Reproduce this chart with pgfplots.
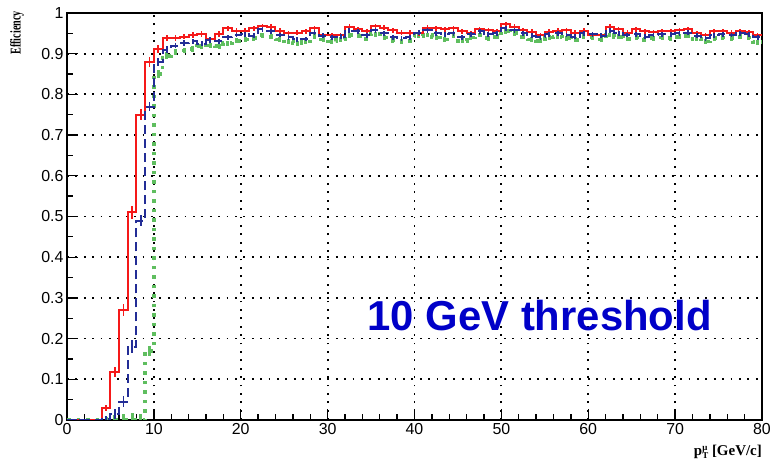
\documentclass[border=0pt]{standalone}
\usepackage{fontspec}
\setmainfont{Liberation Sans}
\newfontfamily\tnr{Liberation Serif}
\usepackage{pgfplots}
\usepackage{pgfplotstable}
\pgfplotsset{compat=1.18}
\definecolor{hred}{RGB}{245,25,25}
\definecolor{hblue}{RGB}{35,45,150}
\definecolor{hgreen}{RGB}{95,190,95}
\definecolor{tblue}{RGB}{0,0,200}

\pgfplotstableread{
x r b g e
0 0 0 0 0.002
1 0 0 0 0.002
2 0 0 0 0.002
3 0 0 0 0.002
4 0.030 0.003 0 0.008
5 0.117 0.015 0 0.012
6 0.270 0.045 0 0.014
7 0.510 0.180 0 0.016
8 0.750 0.490 0 0.014
9 0.880 0.770 0.170 0.012
10 0.912 0.880 0.850 0.010
11 0.938 0.910 0.895 0.008
12 0.938 0.920 0.905 0.007
13 0.942 0.926 0.908 0.007
14 0.946 0.930 0.912 0.007
15 0.948 0.925 0.918 0.007
16 0.935 0.934 0.920 0.007
17 0.948 0.930 0.918 0.007
18 0.962 0.940 0.926 0.006
19 0.956 0.946 0.932 0.006
20 0.956 0.948 0.935 0.006
21 0.962 0.944 0.938 0.006
22 0.968 0.960 0.945 0.006
23 0.966 0.955 0.942 0.006
24 0.956 0.946 0.935 0.006
25 0.950 0.940 0.930 0.006
26 0.952 0.935 0.926 0.006
27 0.955 0.936 0.930 0.006
28 0.962 0.952 0.942 0.006
29 0.946 0.944 0.935 0.006
30 0.946 0.940 0.930 0.006
31 0.946 0.942 0.935 0.006
32 0.966 0.956 0.945 0.006
33 0.960 0.955 0.944 0.006
34 0.955 0.945 0.936 0.006
35 0.968 0.958 0.948 0.006
36 0.964 0.950 0.940 0.006
37 0.958 0.940 0.933 0.006
38 0.952 0.938 0.930 0.006
39 0.952 0.940 0.932 0.006
40 0.950 0.952 0.944 0.006
41 0.964 0.958 0.946 0.006
42 0.962 0.950 0.940 0.006
43 0.960 0.948 0.935 0.006
44 0.962 0.950 0.944 0.006
45 0.955 0.940 0.932 0.006
46 0.950 0.948 0.940 0.006
47 0.960 0.955 0.946 0.006
48 0.958 0.948 0.938 0.006
49 0.955 0.950 0.942 0.006
50 0.972 0.962 0.955 0.006
51 0.966 0.958 0.950 0.006
52 0.958 0.950 0.942 0.006
53 0.954 0.944 0.935 0.006
54 0.946 0.940 0.932 0.006
55 0.954 0.948 0.940 0.006
56 0.956 0.950 0.942 0.006
57 0.958 0.946 0.938 0.006
58 0.952 0.942 0.934 0.006
59 0.956 0.950 0.942 0.006
60 0.946 0.948 0.940 0.006
61 0.946 0.944 0.935 0.006
62 0.966 0.956 0.946 0.006
63 0.960 0.950 0.942 0.006
64 0.952 0.946 0.936 0.006
65 0.960 0.948 0.940 0.006
66 0.955 0.942 0.934 0.006
67 0.953 0.946 0.938 0.006
68 0.955 0.948 0.940 0.006
69 0.955 0.948 0.938 0.006
70 0.958 0.950 0.942 0.006
71 0.960 0.952 0.944 0.006
72 0.950 0.944 0.936 0.006
73 0.946 0.938 0.930 0.006
74 0.955 0.945 0.938 0.006
75 0.955 0.948 0.940 0.006
76 0.952 0.946 0.938 0.006
77 0.955 0.950 0.942 0.006
78 0.953 0.948 0.940 0.006
79 0.945 0.940 0.928 0.006
80 0.945 0.940 0.928 0.000
}\histdata

\begin{document}
\begin{tikzpicture}
\path[use as bounding box] (0,0) rectangle (770bp,465bp);
\begin{axis}[
  name=ax,
  at={(67bp,45bp)}, anchor=south west,
  scale only axis, width=695bp, height=407bp,
  xmin=0, xmax=80, ymin=0, ymax=1,
  xtick distance=10, ytick distance=0.1,
  minor x tick num=4, minor y tick num=1,
  tick pos=left, tick align=inside,
  major tick length=11bp, minor tick length=6bp,
  every tick/.style={black, line width=1.3bp},
  axis line style={black, line width=1.8bp},
  grid=major,
  major grid style={black, line width=1.8bp, dash pattern=on 1.8bp off 6.6bp},
  /pgf/number format/assume math mode=true,
  yticklabel style={/pgf/number format/.cd, fixed, precision=1},
  tick label style={font=\fontsize{16}{16}\selectfont},
  clip=true,
]
\addplot[const plot, hgreen, line width=3.8bp, dash pattern=on 3.5bp off 6bp] table[x=x, y=g] {\histdata};
\addplot[draw=none, mark=none, forget plot, error bars/.cd, y dir=both, y explicit,
  error mark=none, error bar style={hgreen, line width=3bp}]
  table[x expr=\thisrow{x}+0.5, y=g, y error=e] {\histdata};
\addplot[const plot, hred, line width=2bp] table[x=x, y=r] {\histdata};
\addplot[draw=none, mark=none, forget plot, error bars/.cd, y dir=both, y explicit,
  error mark=none, error bar style={hred, line width=1.6bp}]
  table[x expr=\thisrow{x}+0.5, y=r, y error=e] {\histdata};
\addplot[const plot, hblue, line width=2bp, dash pattern=on 9bp off 5bp] table[x=x, y=b] {\histdata};
\addplot[draw=none, mark=none, forget plot, error bars/.cd, y dir=both, y explicit,
  error mark=none, error bar style={hblue, line width=1.8bp}]
  table[x expr=\thisrow{x}+0.5, y=b, y error=e] {\histdata};
\node[text=tblue, font=\fontsize{42}{42}\selectfont\bfseries] at (axis cs:54.4,0.256) {10 GeV threshold};
\end{axis}
\path (ax.north west) ++(-43bp,2bp) node[rotate=90, anchor=south east, inner sep=0pt, font=\tnr\bfseries\fontsize{15}{15}\selectfont] {\scalebox{0.68}[1]{Efficiency}};
\path (ax.south east) ++(0bp,-25bp) node[anchor=north east, inner sep=0pt, font=\tnr\bfseries\fontsize{15}{15}\selectfont] {p\rlap{\raisebox{0.8ex}{\fontsize{9}{9}\selectfont μ}}\raisebox{-0.5ex}{\fontsize{9}{9}\selectfont T} [GeV/c]};
\end{tikzpicture}
\end{document}
